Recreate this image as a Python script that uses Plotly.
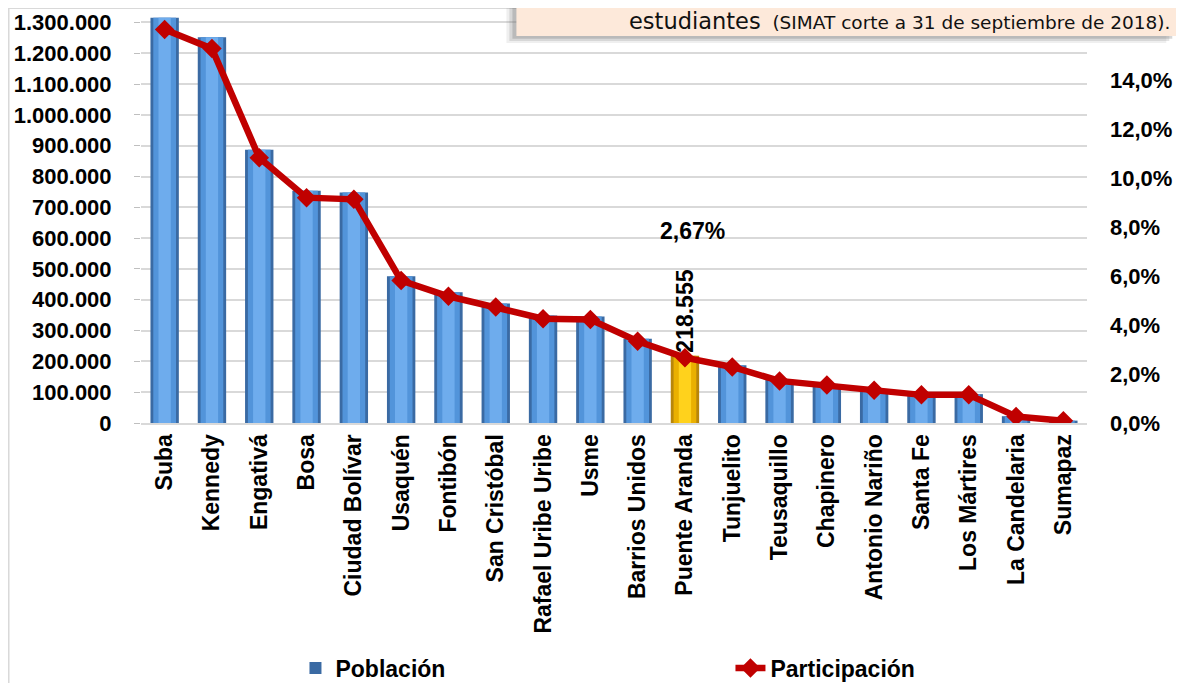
import plotly.graph_objects as go

localidades = ["Suba", "Kennedy", "Engativá", "Bosa", "Ciudad Bolívar", "Usaquén", "Fontibón",
               "San Cristóbal", "Rafael Uribe Uribe", "Usme", "Barrios Unidos", "Puente Aranda",
               "Tunjuelito", "Teusaquillo", "Chapinero", "Antonio Nariño", "Santa Fe",
               "Los Mártires", "La Candelaria", "Sumapaz"]
poblacion = [1315509, 1252014, 887080, 753496, 748012, 476184, 424038, 387560, 348668, 345689,
             273343, 218555, 187593, 140767, 126951, 109254, 93900, 93716, 22041, 7711]
participacion = [16.08, 15.30, 10.84, 9.21, 9.14, 5.82, 5.18, 4.74, 4.26, 4.23, 3.34, 2.67,
                 2.29, 1.72, 1.55, 1.34, 1.15, 1.15, 0.27, 0.09]
destacada = "Puente Aranda"
left_ticks = list(range(0, 1300001, 100000))
right_ticks = list(range(0, 15, 2))

# screen geometry (page body has an 8px default margin)
OFF = 8
W, H = 1184 - OFF, 683 - OFF
L, R, T, B = 140.5, 1086.7, 8, 423
def px(x):
    return (x - L) / (R - L)
def py(y):
    return (B - y) / (B - T)

FONT = "Liberation Sans, Arial, sans-serif"

def colors(normal, hi):
    return [hi if c == destacada else normal for c in localidades]

fig = go.Figure()
# cylinder-like shading with overlaid bars
fig.add_trace(go.Bar(x=localidades, y=poblacion, width=0.6, name="Población",
                     marker=dict(color=colors("#3a6aa3", "#b8860b"), line=dict(width=0)),
                     text=[f"{v:,}".replace(",", ".") if c == destacada else "" for c, v in zip(localidades, poblacion)],
                     textposition="outside", textangle=-90, cliponaxis=False, constraintext="none",
                     textfont=dict(family=FONT, size=23, color="black", weight="bold"),
                     hoverinfo="skip"))
fig.add_trace(go.Bar(x=localidades, y=poblacion, width=0.48, showlegend=False,
                     marker=dict(color=colors("#5294da", "#eab000"), line=dict(width=0)),
                     hoverinfo="skip"))
fig.add_trace(go.Bar(x=localidades, y=poblacion, width=0.26, showlegend=False,
                     marker=dict(color=colors("#6eaced", "#ffd21c"), line=dict(width=0)),
                     hoverinfo="skip"))
fig.add_trace(go.Scatter(x=localidades, y=participacion, yaxis="y2", name="Participación",
                         mode="lines+markers",
                         line=dict(color="#c00000", width=6.5),
                         marker=dict(symbol="diamond", size=15, color="#c00000"),
                         hoverinfo="skip"))

idx = localidades.index(destacada)
fig.add_annotation(x=destacada, y=participacion[idx], xref="x", yref="y2",
                   text="2,67%", showarrow=False, yshift=127, xshift=8,
                   font=dict(family=FONT, size=23, color="black", weight="bold"))

# header box (cropped) with soft shadow
for dx, a in [(10, 0.12), (7, 0.2), (4, 0.3)]:
    fig.add_shape(type="rect", xref="paper", yref="paper", x0=px(516 - dx), x1=px(1176 - dx),
                  y0=py(36 + dx * 0.7), y1=py(-10),
                  fillcolor=f"rgba(120,120,120,{a})", line=dict(width=0), layer="above")
fig.add_shape(type="rect", xref="paper", yref="paper", x0=px(516), x1=px(1184), y0=py(36), y1=py(-10),
              fillcolor="#fde9da", line=dict(width=0), layer="above")
fig.add_annotation(xref="paper", yref="paper", x=px(1172), y=py(21), xanchor="right", yanchor="middle",
                   showarrow=False,
                   text='<span style="font-size:22.5px">estudiantes</span>  (SIMAT corte a 31 de septiembre de 2018).',
                   font=dict(family="DejaVu Sans, Verdana, sans-serif", size=18.5, color="#111111"))
# chart border
fig.add_shape(type="rect", xref="paper", yref="paper", x0=px(8), x1=px(1180), y0=py(700), y1=py(8),
              line=dict(color="#d9d9d9", width=2), fillcolor="rgba(0,0,0,0)", layer="below")

fig.update_layout(
    width=W, height=H,
    margin=dict(l=L - OFF, r=W - (R - OFF), t=T - OFF, b=H - (B - OFF)),
    paper_bgcolor="white", plot_bgcolor="white",
    barmode="overlay", separators=",.",
    font=dict(family=FONT, color="black"),
    xaxis=dict(range=[-0.5, len(localidades) - 0.5],
               tickangle=-90, tickfont=dict(family=FONT, size=23, color="black", weight="bold"),
               showgrid=False, showline=True, linecolor="#d9d9d9", linewidth=2,
               ticks="", automargin=False, ticklabelstandoff=0),
    yaxis=dict(range=[0, 1347000], tickvals=left_ticks, tickformat=",d",
               tickfont=dict(family=FONT, size=22, color="black", weight="bold"),
               showgrid=True, gridcolor="#d9d9d9", gridwidth=2, zeroline=False,
               ticks="outside", ticklen=6, tickcolor="#bfbfbf", tickwidth=1,
               ticklabelstandoff=18, automargin=False),
    yaxis2=dict(range=[0, 16.96], overlaying="y", side="right", tickvals=right_ticks,
                ticktext=[f"{v},0%" for v in right_ticks], showgrid=False, zeroline=False,
                tickfont=dict(family=FONT, size=22, color="black", weight="bold"),
                ticklabelstandoff=22, automargin=False),
    legend=dict(orientation="h", x=px(295), xanchor="left",
                yref="container", y=(683 - 668) / H, yanchor="middle",
                font=dict(family=FONT, size=23, color="black", weight="bold"),
                entrywidth=390, entrywidthmode="pixels", bgcolor="rgba(0,0,0,0)",
                traceorder="normal"),
    showlegend=True,
)

fig.write_html("out.html")
